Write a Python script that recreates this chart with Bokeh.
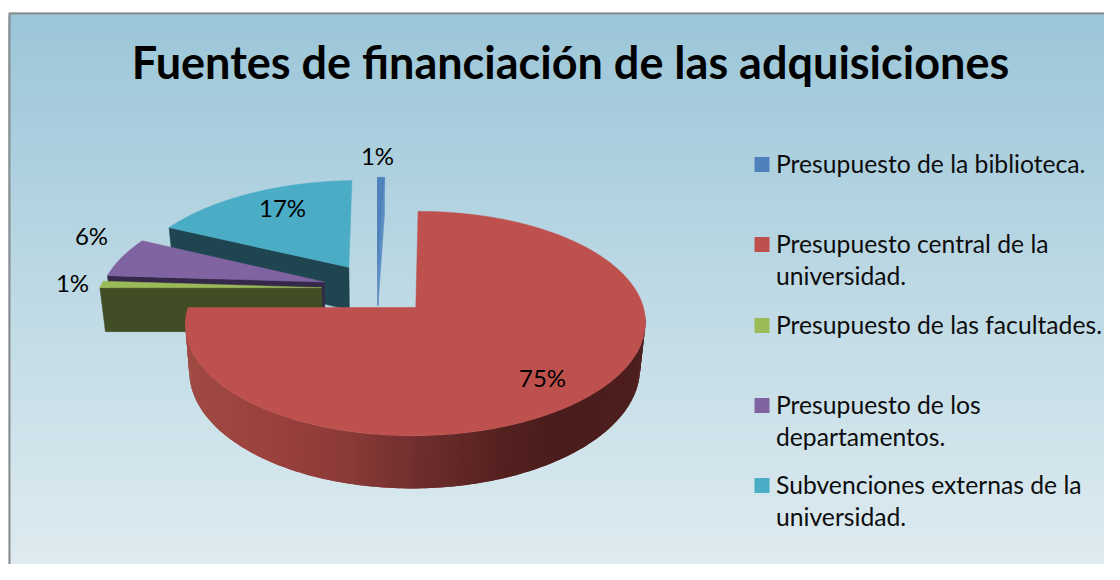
import numpy as np
from bokeh.plotting import figure
from bokeh.models import Range1d
from bokeh.core.properties import value
from bokeh.embed import file_html
from bokeh.resources import INLINE

TITLE = "Fuentes de financiación de las adquisiciones"
categories = ["Presupuesto de la biblioteca.", "Presupuesto central de la universidad.",
              "Presupuesto de las facultades.", "Presupuesto de los departamentos.",
              "Subvenciones externas de la universidad."]
shares = [0.6, 75, 1, 6, 17.4]
share_labels = ["1%", "75%", "1%", "6%", "17%"]
legend_lines = [["Presupuesto de la biblioteca."],
                ["Presupuesto central de la", "universidad."],
                ["Presupuesto de las facultades."],
                ["Presupuesto de los", "departamentos."],
                ["Subvenciones externas de la", "universidad."]]
top_colors = ["#4F81BD", "#BE504D", "#9BBB59", "#8064A2", "#4BACC6"]
wall_colors = ["#3F6DA3", "#7A3230", "#404D25", "#35284A", "#1F4650"]

# layout
W, H = 1104, 564
FONT = "Lato"
FIRST_ANGLE = 357.84
EXPLODE = 0.25
CX, CY, A, B, K, SHEAR = 376.5, 288.0, 222.0, 104.5, 0.14, 8.0
DEPTH, BOTTOM_SCALE = 44.0, 0.98
label_xy = [(377, 155), (542, 377), (72, 282), (91, 235), (282, 207)]
legend_y = [163, 243, 324, 404, 484]

p = figure(width=W, height=H, x_range=Range1d(0, W), y_range=Range1d(H, 0),
           output_backend="svg", toolbar_location=None, min_border=0,
           background_fill_color="white", border_fill_color="white", outline_line_color=None)
p.axis.visible = False
p.grid.visible = False


def to_hex(c):
    return "#%02x%02x%02x" % tuple(int(round(v)) for v in c)


# background panel with a vertical gradient (each band runs to the bottom, so no seams)
g_y = [12, 300, 580]
g_c = [(155, 198, 216), (191, 218, 229), (224, 236, 241)]
edges = np.arange(12, H, 4.0)
band_colors = [to_hex([np.interp(y, g_y, [c[i] for c in g_c]) for i in range(3)]) for y in edges]
p.quad(left=8, right=W, top=edges, bottom=H, fill_color=band_colors, line_color=None)
p.line([9, 9, W], [H, 13, 13], line_color="#8C8C8C", line_width=2)


def project(u, v, bottom=False):
    w = 1 + K * v
    x = (A * u + SHEAR * v) / w
    y = CY - B * v / w
    if bottom:
        return CX + BOTTOM_SCALE * x, y + DEPTH / w
    return CX + x, y


# slice angles from the values
fr = np.array(shares, float) / sum(shares) * 360.0
start = (FIRST_ANGLE + np.concatenate([[0], np.cumsum(fr)[:-1]])) % 360
end = start + fr
mid = np.radians(start + fr / 2)
ox, oy = EXPLODE * np.sin(mid), EXPLODE * np.cos(mid)


def rim(i, a):
    t = np.radians(a)
    return ox[i] + np.sin(t), oy[i] + np.cos(t)


def radial_wall(i, a, color):
    u, v = rim(i, a)
    x0, y0 = project(ox[i], oy[i])
    x1, y1 = project(u, v)
    x2, y2 = project(u, v, True)
    x3, y3 = project(ox[i], oy[i], True)
    p.patch([x0, x1, x2, x3], [y0, y1, y2, y3], fill_color=color, line_color=color, line_width=0.5)


def top_face(i):
    a = np.linspace(start[i], end[i], max(8, int(fr[i] * 2)))
    u, v = rim(i, a)
    xs, ys = project(np.r_[ox[i], u], np.r_[oy[i], v])
    p.patch(xs, ys, fill_color=top_colors[i], line_color=top_colors[i], line_width=0.5)


# back-to-front: biblioteca, subvenciones, departamentos, facultades, central
radial_wall(0, start[0], wall_colors[0])
radial_wall(0, end[0], "#5B8EC5")
top_face(0)
for i in [4, 3, 2]:
    radial_wall(i, start[i], wall_colors[i])
    top_face(i)

# front wall of the large slice, shaded along x; each piece overlaps the next to hide seams
i = 1
shade_x = [185, 270, 350, 420, 500, 560, 650]
shade_c = [(160, 74, 68), (155, 65, 61), (138, 58, 56), (110, 46, 45), (85, 33, 32), (74, 28, 28), (78, 31, 30)]
a = np.arange(95.0, 270.01, 1.0)[::-1]
u, v = rim(i, a)
xt, yt = project(u, v)
xb, yb = project(u, v, True)
for j in range(len(a) - 1):
    k = min(j + 2, len(a) - 1)
    col = to_hex([np.interp((xt[j] + xt[j + 1]) / 2, shade_x, [c[n] for c in shade_c]) for n in range(3)])
    p.patch(np.r_[xt[j:k + 1], xb[j:k + 1][::-1]], np.r_[yt[j:k + 1], yb[j:k + 1][::-1]],
            fill_color=col, line_color=None)
top_face(i)

# data labels
p.text(x=[q[0] for q in label_xy], y=[q[1] for q in label_xy], text=share_labels,
       text_font=value(FONT), text_font_size="24px", text_color="#000000",
       text_align="center", text_baseline="middle")

# legend
p.scatter(x=[761.5] * 5, y=[y + 1 for y in legend_y], marker="square", size=15, fill_color=top_colors, line_color=None)
lx, ly, lt = [], [], []
for y0, lines in zip(legend_y, legend_lines):
    for n, s in enumerate(lines):
        lx.append(775.5)
        ly.append(y0 + n * 32)
        lt.append(s)
p.text(x=lx, y=ly, text=lt, text_font=value(FONT), text_font_size="24.7px", text_color="#0D0D0D",
       text_align="left", text_baseline="middle")

# title
p.text(x=[570], y=[61], text=[TITLE], text_font=value(FONT), text_font_size="45px", text_font_style="bold",
       text_color="#000000", text_align="center", text_baseline="middle")

open("out.html", "w").write(file_html(p, INLINE))
